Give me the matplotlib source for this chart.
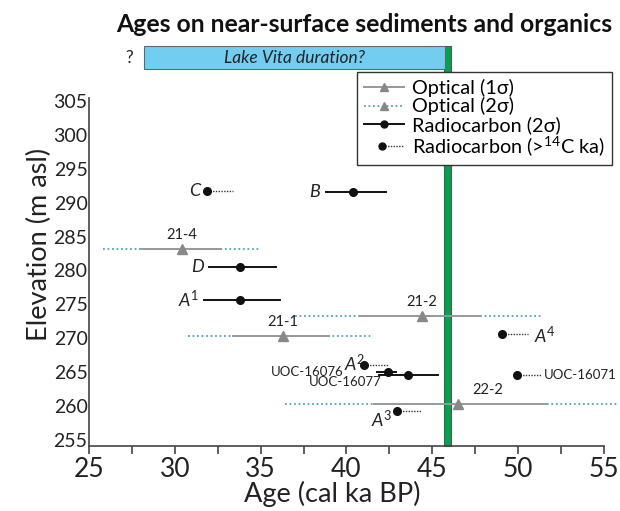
import matplotlib
matplotlib.use("Agg")
import matplotlib.pyplot as plt
from matplotlib.lines import Line2D
from matplotlib.patches import Rectangle
from matplotlib.legend_handler import HandlerBase
from matplotlib.ticker import MultipleLocator

plt.rcParams['font.family'] = ['Lato', 'DejaVu Sans']
plt.rcParams['mathtext.fontset'] = 'custom'
plt.rcParams['mathtext.rm'] = 'Lato'
plt.rcParams['mathtext.it'] = 'Lato:italic'

# optical ages (triangle, 1 sigma solid grey, 2 sigma dotted blue)
opt_names = ['21-4', '21-1', '21-2', '22-2']
opt_age = [30.4, 36.3, 44.4, 46.5]
opt_elev = [283.2, 270.3, 273.3, 260.3]
opt_lo1 = [28.1, 33.4, 40.8, 41.6]
opt_hi1 = [32.7, 39.0, 47.8, 51.6]
opt_lo2 = [25.8, 30.75, 37.0, 36.4]
opt_hi2 = [35.0, 41.5, 51.4, 55.75]

# radiocarbon, 2 sigma
rc_names = ['B', 'D', 'A$^1$', 'UOC-16076', 'UOC-16077']
rc_age = [40.4, 33.8, 33.8, 42.4, 43.6]
rc_elev = [291.6, 280.5, 275.7, 265.0, 264.6]
rc_lo = [38.8, 32.0, 31.7, 41.8, 41.9]
rc_hi = [42.3, 35.9, 36.1, 42.9, 45.35]

# radiocarbon, beyond 14C limit (minimum ages)
inf_names = ['C', 'A$^2$', 'A$^3$', 'A$^4$', 'UOC-16071']
inf_age = [31.9, 41.05, 42.95, 49.07, 49.94]
inf_elev = [291.7, 266.1, 259.2, 270.6, 264.6]
inf_end = [33.4, 42.5, 44.4, 50.6, 51.4]

lake_start = 28.2
lake_end = 45.72
lake_green = 45.9

blue = '#4aa6c4'
grey = '#999999'
ink = '#222222'

fig = plt.figure(figsize=(6.2, 5.11), dpi=100)
ax = fig.add_axes([0.1435, 0.1272, 0.8306, 0.681])
ax.set_xlim(25, 55)
ax.set_ylim(254.1, 305.45)

# green bar + lake box above the axes
ax.add_patch(Rectangle((lake_green - 0.19, 254.1), 0.38, 313.1 - 254.1, facecolor='#00a450',
                       edgecolor='#555555', lw=0.8, clip_on=False, zorder=2))
ax.add_patch(Rectangle((lake_start, 309.7), lake_end - lake_start, 3.4, facecolor='#72cdf0',
                       edgecolor='#666666', lw=0.8, clip_on=False, zorder=2))
ax.text((lake_start + lake_end) / 2, 311.4, 'Lake Vita duration?', style='italic',
        fontsize=12.5, ha='center', va='center', color=ink)
ax.text(lake_start - 0.6, 311.4, '?', fontsize=12.5, ha='right', va='center', color=ink)

# optical
for i in range(len(opt_names)):
    ax.plot([opt_lo2[i], opt_hi2[i]], [opt_elev[i]] * 2, color=blue, ls=(0, (1, 1.5)), lw=1.3,
            clip_on=False, zorder=3)
    ax.plot([opt_lo1[i], opt_hi1[i]], [opt_elev[i]] * 2, color=grey, lw=1.4, zorder=4)
    ax.plot(opt_age[i], opt_elev[i], marker='^', color='#888888', ms=7, zorder=5)
    if opt_names[i] == '22-2':
        ax.annotate(opt_names[i], (opt_age[i], opt_elev[i]), xytext=(10, 7),
                    textcoords='offset points', fontsize=10.5, color=ink)
    else:
        ax.annotate(opt_names[i], (opt_age[i], opt_elev[i]), xytext=(0, 7),
                    textcoords='offset points', fontsize=10.5, ha='center', color=ink)

# radiocarbon 2 sigma
for i in range(len(rc_names)):
    ax.plot([rc_lo[i], rc_hi[i]], [rc_elev[i]] * 2, color='#111111', lw=1.4, zorder=4)
    ax.plot(rc_age[i], rc_elev[i], 'o', color='#111111', ms=5.5, zorder=5)
    name = rc_names[i]
    if name == 'UOC-16076':
        ax.annotate(name, (rc_lo[i], rc_elev[i]), xytext=(-24, 0), textcoords='offset points',
                    fontsize=9.5, ha='right', va='center', color=ink)
    elif name == 'UOC-16077':
        ax.annotate(name, (rc_lo[i], rc_elev[i]), xytext=(2, -5), textcoords='offset points',
                    fontsize=9.5, ha='right', va='center', color=ink)
    else:
        ax.annotate(name, (rc_lo[i], rc_elev[i]), xytext=(-4, 0), textcoords='offset points',
                    fontsize=13, style='italic', ha='right', va='center', color=ink)

# radiocarbon minimum ages
for i in range(len(inf_names)):
    ax.plot([inf_age[i], inf_end[i]], [inf_elev[i]] * 2, color='#333333', ls=(0, (1, 1)), lw=1.0, zorder=4)
    ax.plot(inf_age[i], inf_elev[i], 'o', color='#111111', ms=5.5, zorder=5)
    name = inf_names[i]
    if name == 'C':
        ax.annotate(name, (inf_age[i], inf_elev[i]), xytext=(-5, 0), textcoords='offset points',
                    fontsize=13, style='italic', ha='right', va='center', color=ink)
    elif name == 'A$^2$':
        ax.annotate(name, (inf_age[i], inf_elev[i]), xytext=(0, 1), textcoords='offset points',
                    fontsize=13, style='italic', ha='right', va='center', color=ink)
    elif name == 'A$^3$':
        ax.annotate(name, (inf_age[i], inf_elev[i]), xytext=(-4, -6), textcoords='offset points',
                    fontsize=13, style='italic', ha='right', va='center', color=ink)
    elif name == 'A$^4$':
        ax.annotate(name, (inf_end[i], inf_elev[i]), xytext=(4, -1), textcoords='offset points',
                    fontsize=13, style='italic', ha='left', va='center', color=ink)
    else:
        ax.annotate(name, (inf_end[i], inf_elev[i]), xytext=(1, 0), textcoords='offset points',
                    fontsize=9.5, ha='left', va='center', color=ink)

ax.spines['top'].set_visible(False)
ax.spines['right'].set_visible(False)
for s in ['left', 'bottom']:
    ax.spines[s].set_color('#444444')
    ax.spines[s].set_linewidth(1.2)
ax.set_yticks(range(255, 306, 5))
ax.xaxis.set_major_locator(MultipleLocator(5))
ax.xaxis.set_minor_locator(MultipleLocator(2.5))
ax.tick_params(axis='x', which='both', length=6, width=1.2, color='#444444', labelsize=19,
               labelcolor=ink, pad=2)
ax.tick_params(axis='y', length=0, labelsize=14, labelcolor=ink, pad=1)
ax.set_xlabel('Age (cal ka BP)', fontsize=19.5, color=ink, labelpad=-1)
ax.set_ylabel('Elevation (m asl)', fontsize=19.5, color=ink, labelpad=1)
ax.xaxis.label.set_x(0.472)
ax.yaxis.label.set_y(0.58)

fig.text(0.587, 1 - 24 / 511, 'Ages on near-surface sediments and organics', fontsize=17.8,
         fontweight='bold', ha='center', va='center', color='#111111')


class LeftDotHandler(HandlerBase):
    def create_artists(self, legend, orig_handle, xdescent, ydescent, width, height, fontsize, trans):
        y = height / 2 - ydescent
        x0 = -xdescent + width * 0.45
        line = Line2D([x0, width - xdescent], [y, y], color='#333333', ls=(0, (1, 1)), lw=1.0)
        dot = Line2D([x0], [y], marker='o', color='#111111', ms=5, ls='none')
        line.set_transform(trans)
        dot.set_transform(trans)
        return [line, dot]


h1 = Line2D([], [], color=grey, lw=1.4, marker='^', mfc='#888888', mec='#888888', ms=6)
h2 = Line2D([], [], color=blue, ls=(0, (1, 1.5)), lw=1.3, marker='^', mfc='#888888', mec='#888888', ms=6)
h3 = Line2D([], [], color='#111111', lw=1.4, marker='o', ms=5)
h4 = Line2D([], [], color='#111111')
leg = ax.legend([h1, h2, h3, h4],
                ['Optical (1σ)', 'Optical (2σ)', 'Radiocarbon (2σ)', 'Radiocarbon (>$^{14}$C ka)'],
                loc='upper right', bbox_to_anchor=(612 / 620, 1 - 72 / 511),
                bbox_transform=fig.transFigure, fontsize=14.3, frameon=True, fancybox=False,
                edgecolor='#333333', framealpha=1, handlelength=2.0, handletextpad=0.4,
                labelspacing=0.02, borderpad=0.35, borderaxespad=0,
                handler_map={h4: LeftDotHandler()})
leg.get_frame().set_linewidth(1.0)
leg.set_zorder(10)

fig.savefig('out.png', dpi=100)
